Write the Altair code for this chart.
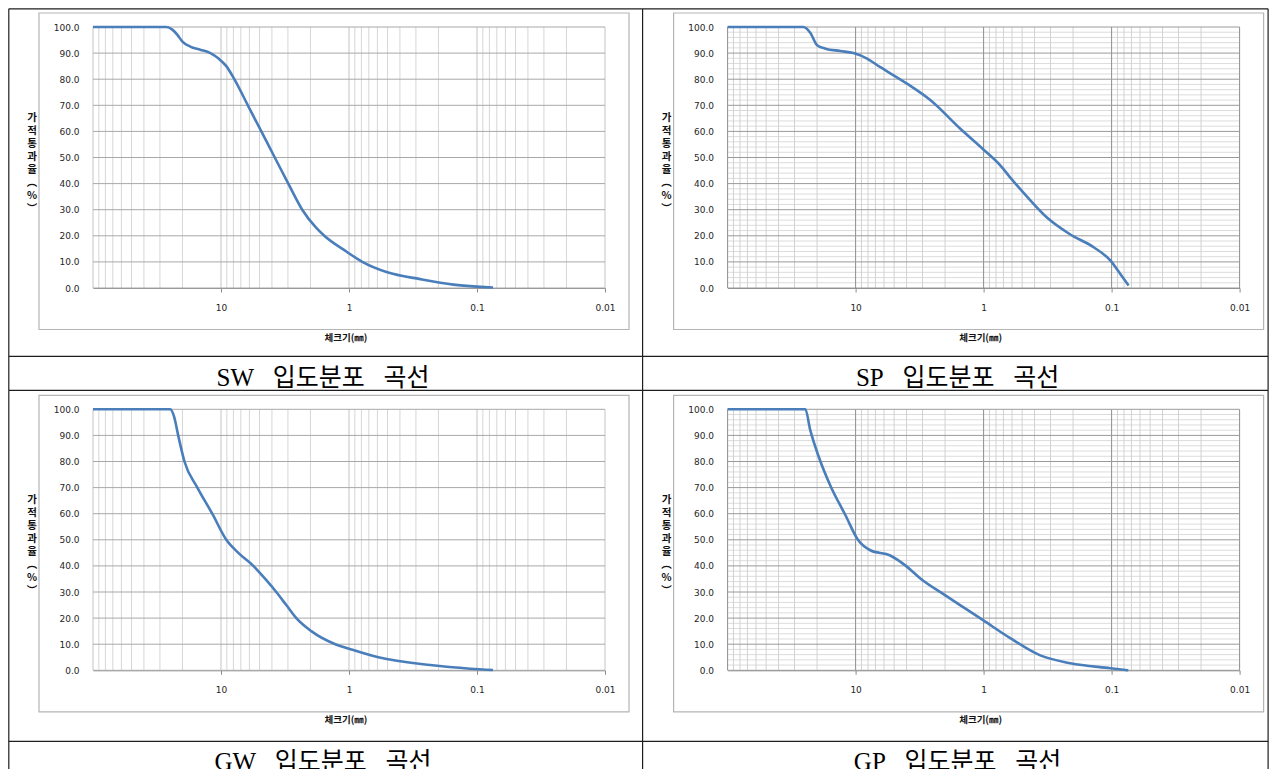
import altair as alt
import pandas as pd

# ---------------- data ----------------
sw_size = [100, 50, 26.8, 24.0, 21.9, 20.1, 17.4, 14.5, 12.1, 10.5, 9.09, 7.87, 6.17, 4.84, 3.80, 2.98, 2.32,
           1.80, 1.56, 1.05, 0.787, 0.502, 0.277, 0.153, 0.075]
sw_pass = [100, 100, 100, 99, 97, 94.5, 92.5, 91.3, 90, 88, 85, 80, 70, 60, 50, 40, 30,
           23, 20, 14, 10, 6, 3.4, 1.3, 0.2]

sp_size = [100, 50, 25.6, 22.6, 20.0, 17.2, 13.2, 10.4, 8.14, 6.41, 3.97, 2.61, 1.52, 1.0, 0.741, 0.600,
           0.458, 0.320, 0.210, 0.138, 0.102, 0.0855, 0.0737]
sp_pass = [100, 100, 100, 97.8, 93.0, 91.7, 90.8, 90.0, 87.9, 84.6, 78.3, 72.0, 61.0, 53.0, 47.0, 41.5,
           35.0, 27.0, 20.5, 15.6, 10.5, 5.4, 1.0]

gw_size = [100, 50, 24.9, 23.2, 21.6, 19.3, 15.3, 11.7, 9.09, 7.32, 5.59, 4.51, 3.70, 3.09, 2.58, 1.97,
           1.28, 1.0, 0.590, 0.232, 0.113, 0.075]
gw_pass = [100, 100, 100, 97, 90, 80, 70, 60, 50, 45, 40, 35, 30, 25, 20, 15,
           10, 8.3, 5, 2, 0.6, 0.1]

gp_size = [100, 50, 24.7, 22.6, 19.6, 15.8, 12.0, 9.53, 7.68, 5.36, 4.09, 3.12, 1.99, 1.01, 0.619, 0.361,
           0.210, 0.102, 0.0741]
gp_pass = [100, 100, 100, 92.0, 82.4, 70.9, 59.4, 49.8, 46.0, 44.0, 40.2, 35.2, 28.7, 19.2, 12.3, 5.7,
           2.7, 0.8, 0.0]

SP3 = "\u00a0\u00a0\u00a0"
captions = ["SW" + SP3 + "입도분포" + SP3 + "곡선", "SP" + SP3 + "입도분포" + SP3 + "곡선",
            "GW" + SP3 + "입도분포" + SP3 + "곡선", "GP" + SP3 + "입도분포" + SP3 + "곡선"]

x_labels = [10, 1, 0.1, 0.01]
decades = [100, 10, 1, 0.1, 0.01]
minor_mult = [2, 3, 4, 5, 6, 7, 8, 9]
y_major = [0, 10, 20, 30, 40, 50, 60, 70, 80, 90, 100]
y_minor = [2, 4, 6, 8, 12, 14, 16, 18, 22, 24, 26, 28, 32, 34, 36, 38, 42, 44, 46, 48,
           52, 54, 56, 58, 62, 64, 66, 68, 72, 74, 76, 78, 82, 84, 86, 88, 92, 94, 96, 98]

x_title = "체크기(㎜)"
y_title = "가\n적\n통\n과\n율\n︵\n%\n︶"

# ---------------- layout ----------------
W, H = 512, 261
LINE_BLUE = "#4a7ebb"
TABLE = "#1e1e1e"
ONE = alt.Data(values=[{}])

x_scale = alt.Scale(type="log", domain=[0.01, 100], reverse=True)
y_scale = alt.Scale(domain=[0, 100], nice=False, zero=False)

X_AX = alt.Axis(values=x_labels, format="~g", title=None, grid=False,
                ticks=True, tickSize=4, tickColor="#8a8a8a",
                domainColor="#8a8a8a", labelFont="DejaVu Sans", labelFontSize=9,
                labelColor="#262626", labelPadding=11, labelFlush=False)
Y_AX = alt.Axis(values=y_major, format=".1f", title=None, grid=False, ticks=False,
                domain=False, labelFont="DejaVu Sans", labelFontSize=9,
                labelColor="#262626", labelPadding=14)

minor_x = [m * d for d in [0.01, 0.1, 1, 10] for m in minor_mult]


def hline(y, x1, x2):
    return alt.Chart(ONE).mark_rule(color=TABLE, strokeWidth=1.2).encode(
        x=alt.value(x1), x2=alt.value(x2), y=alt.value(y))


def vline(x, y1, y2):
    return alt.Chart(ONE).mark_rule(color=TABLE, strokeWidth=1.2).encode(
        x=alt.value(x), y=alt.value(y1), y2=alt.value(y2))


def panel(sizes, passes, caption, dense, col, row):
    layers = []
    # chart area border
    layers.append(alt.Chart(ONE).mark_rect(filled=False, stroke="#b5b5b5", strokeWidth=1.2).encode(
        x=alt.value(-54), x2=alt.value(536), y=alt.value(-14), y2=alt.value(302.5)))
    # gridlines
    if dense:
        layers.append(alt.Chart(pd.DataFrame({"h": y_minor})).mark_rule(color="#dcdcdc", strokeWidth=1).encode(
            y=alt.Y("h:Q", scale=y_scale, axis=Y_AX), x=alt.value(0), x2=alt.value(W)))
    vminor = "#d2d2d2" if dense else "#d6d6d6"
    vmajor = "#8e8e8e" if dense else "#c4c4c4"
    hmajor = "#9a9a9a" if dense else "#a8a8a8"
    layers.append(alt.Chart(pd.DataFrame({"g": minor_x})).mark_rule(color=vminor, strokeWidth=1).encode(
        x=alt.X("g:Q", scale=x_scale, axis=X_AX), y=alt.value(0), y2=alt.value(H)))
    layers.append(alt.Chart(pd.DataFrame({"d": decades})).mark_rule(color=vmajor, strokeWidth=1).encode(
        x=alt.X("d:Q", scale=x_scale, axis=X_AX), y=alt.value(0), y2=alt.value(H)))
    layers.append(alt.Chart(pd.DataFrame({"m": y_major})).mark_rule(color=hmajor, strokeWidth=1).encode(
        y=alt.Y("m:Q", scale=y_scale, axis=Y_AX), x=alt.value(0), x2=alt.value(W)))
    # curve
    df = pd.DataFrame({"size": sizes, "pass": passes})
    layers.append(alt.Chart(df).mark_line(color=LINE_BLUE, strokeWidth=2.6, interpolate="monotone").encode(
        x=alt.X("size:Q", scale=x_scale, axis=X_AX),
        y=alt.Y("pass:Q", scale=y_scale, axis=Y_AX),
        order=alt.Order("size:Q", sort="descending")))
    # axis titles
    layers.append(alt.Chart(ONE).mark_text(text=y_title, lineBreak="\n", lineHeight=13, fontSize=10.5,
                                           fontWeight="bold", font="Noto Sans CJK KR", baseline="top",
                                           align="center", color="#111").encode(
        x=alt.value(-61), y=alt.value(86)))
    layers.append(alt.Chart(ONE).mark_text(text=x_title, fontSize=9.5, fontWeight="bold",
                                           font="Noto Sans CJK KR", baseline="middle", align="center",
                                           color="#111").encode(
        x=alt.value(253), y=alt.value(311)))
    # caption
    cap_y = 359 if row == 0 else 361
    layers.append(alt.Chart(ONE).mark_text(text=caption, fontSize=25,
                                           font="Liberation Serif, Noto Sans CJK KR", baseline="alphabetic",
                                           align="center", color="#000").encode(
        x=alt.value(230), y=alt.value(cap_y)))
    # table lines
    right = 540.5
    if row == 0:
        top, mid, bot = -18.2, 329.3, 363.3
    else:
        top, mid, bot = -19, 332, 372
    x1 = -85 if col == 1 else -84.2
    x2 = 549.6 if col == 0 else right
    layers.append(hline(top, x1, x2))
    layers.append(hline(mid, x1, x2))
    if col == 0:
        layers.append(vline(-84.2, top, bot))
        layers.append(vline(549.6, top, bot))
    else:
        layers.append(vline(right, top, bot))
    return alt.layer(*layers).properties(width=W, height=H)


tl = panel(sw_size, sw_pass, captions[0], False, 0, 0)
tr = panel(sp_size, sp_pass, captions[1], True, 1, 0)
bl = panel(gw_size, gw_pass, captions[2], False, 0, 1)
br = panel(gp_size, gp_pass, captions[3], True, 1, 1)

chart = alt.concat(tl, tr, bl, br, columns=2, spacing={"row": 121.3, "column": 122.6},
                   bounds="flush", padding=0).configure_view(strokeWidth=0)

chart.save("out.html", embed_options={"renderer": "svg", "actions": False})
